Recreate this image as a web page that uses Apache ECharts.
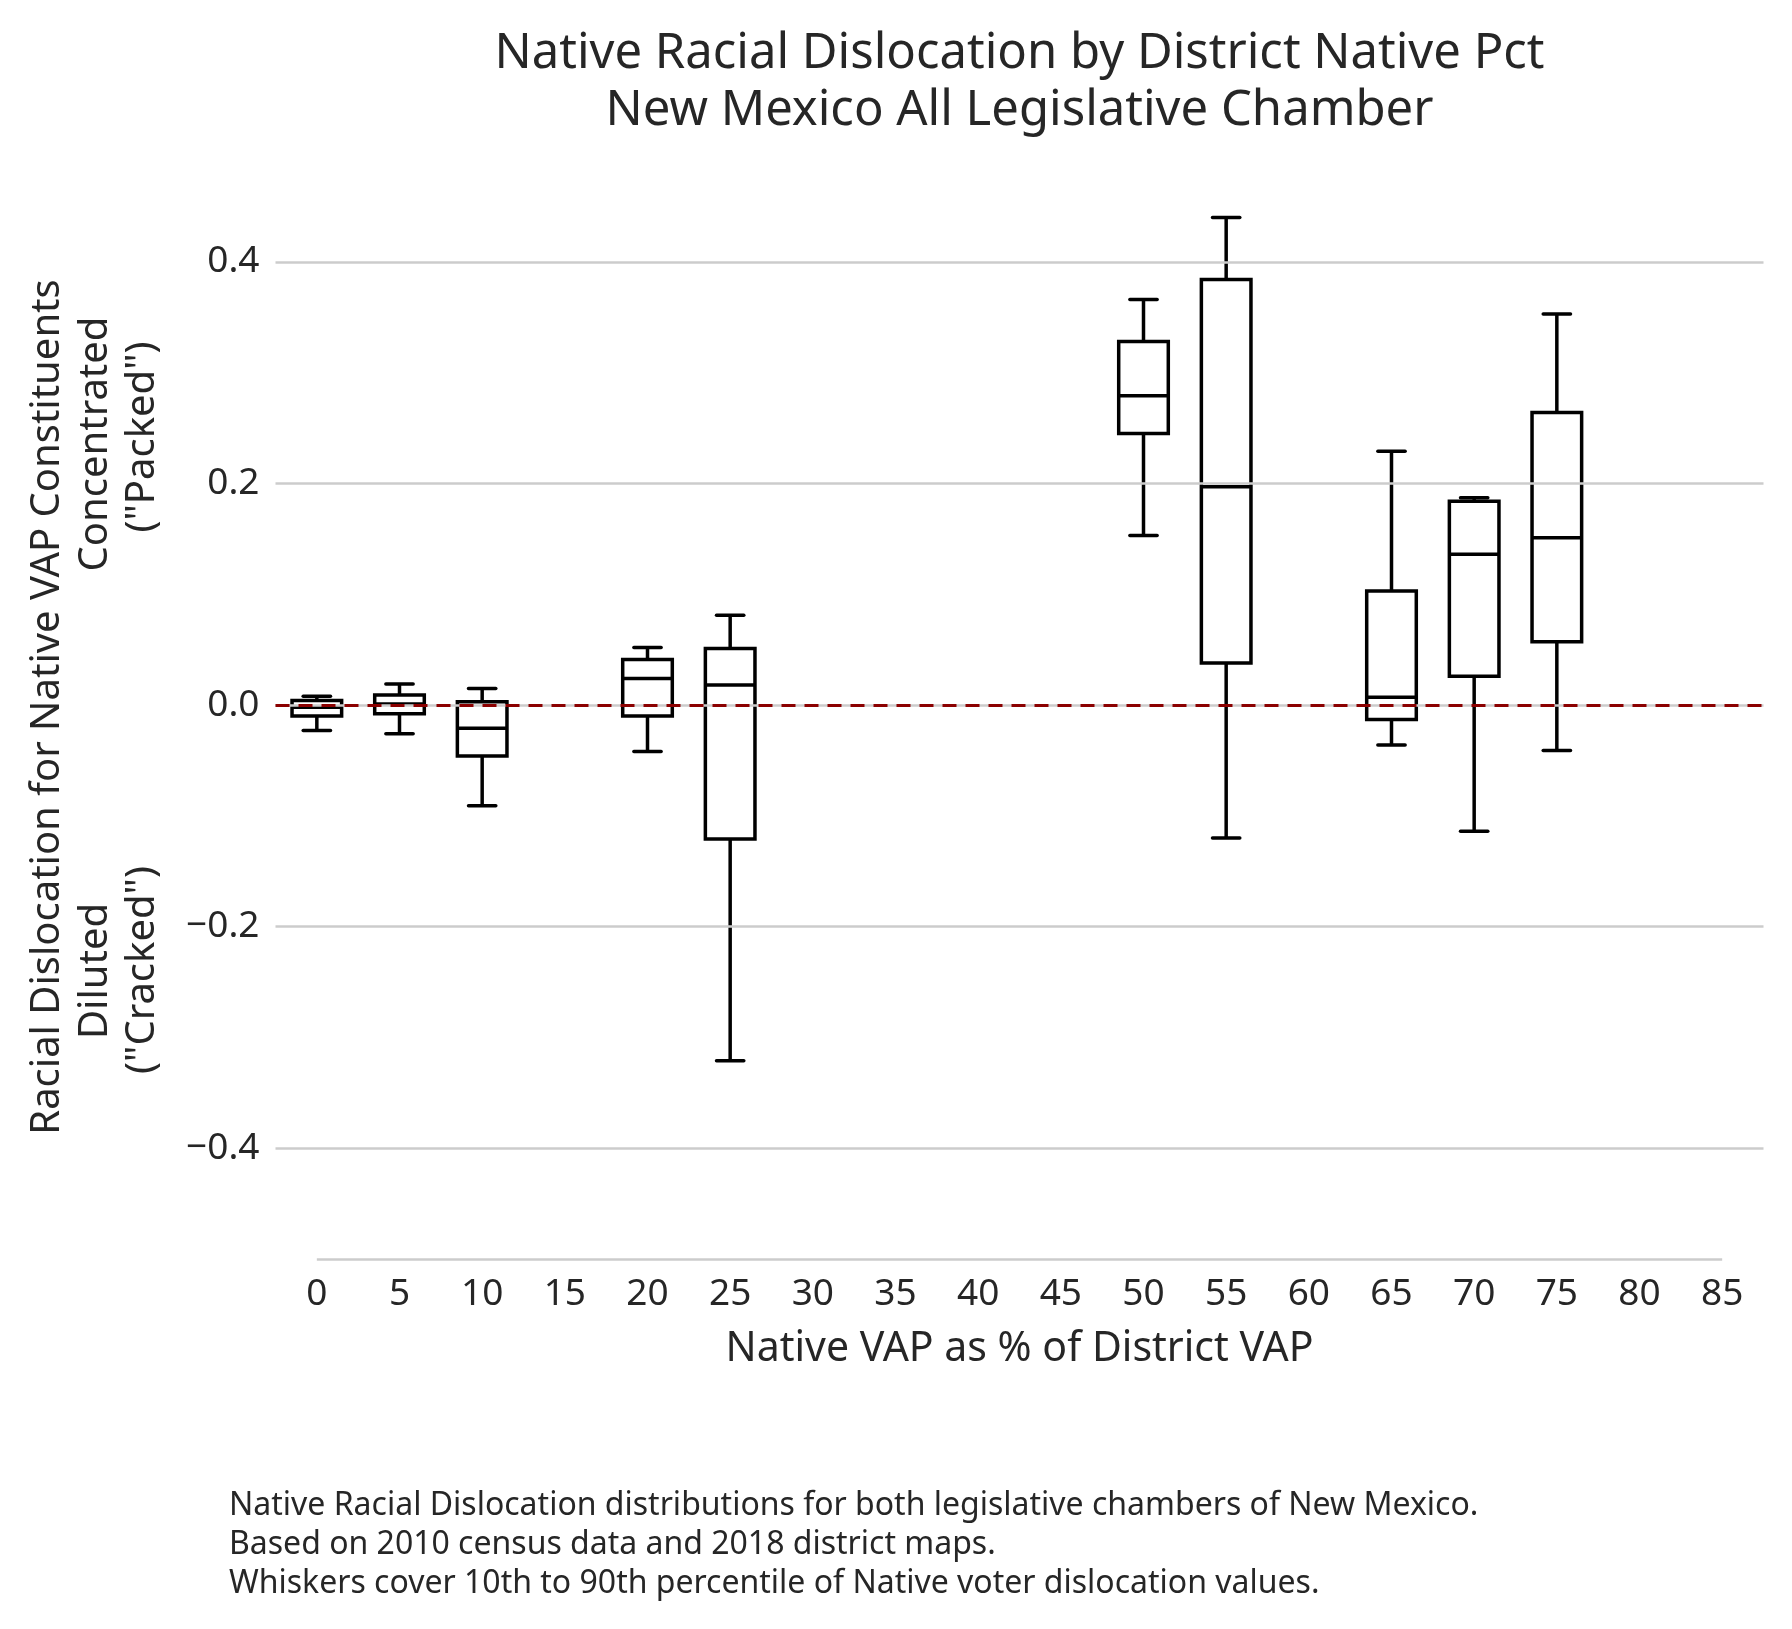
<!DOCTYPE html>
<html>
<head>
<meta charset="utf-8">
<script src="https://cdn.jsdelivr.net/npm/echarts@6/dist/echarts.min.js"></script>
<style>
html,body{margin:0;padding:0;background:#fff;}
#chart{width:1792px;height:1629px;}
</style>
</head>
<body>
<div id="chart"></div>
<script>
// ---- data ----
const categories = ['0','5','10','15','20','25','30','35','40','45','50','55','60','65','70','75','80','85'];
const boxCats     = ['0','5','10','20','25','50','55','65','70','75'];
const whiskerLow  = [-0.023,-0.026,-0.091,-0.042,-0.321, 0.153, -0.120,-0.036,-0.114,-0.041];
const q1          = [-0.010,-0.008,-0.046,-0.010,-0.121, 0.245,  0.038,-0.013, 0.026, 0.057];
const median      = [-0.002, 0.001,-0.021, 0.024, 0.018, 0.279,  0.197, 0.007, 0.136, 0.151];
const q3          = [ 0.004, 0.009, 0.003, 0.041, 0.051, 0.328,  0.384, 0.103, 0.184, 0.264];
const whiskerHigh = [ 0.008, 0.019, 0.015, 0.052, 0.081, 0.366,  0.440, 0.229, 0.187, 0.353];
const yTicks = [-0.4,-0.2,0,0.2,0.4];
const titleLines = ['Native Racial Dislocation by District Native Pct','New Mexico All Legislative Chamber'];
const footnote = ['Native Racial Dislocation distributions for both legislative chambers of New Mexico.',
                  'Based on 2010 census data and 2018 district maps.',
                  'Whiskers cover 10th to 90th percentile of Native voter dislocation values.'];

const boxData = boxCats.map((c,i)=>[c, whiskerLow[i], q1[i], median[i], q3[i], whiskerHigh[i]]);

const FONT = '"Noto Sans", "Open Sans", sans-serif';
const TXT = '#262626';

function fmt(v){
  if (Math.abs(v) < 1e-9) return '0.0';
  return (v < 0 ? '\u2212' : '') + Math.abs(v).toFixed(1);
}

const chart = echarts.init(document.getElementById('chart'), null, {renderer:'canvas'});

function geom(api){
  const xi = api.value(0);
  const x = api.coord([xi, 0])[0];
  const cw = api.size([1,0])[0];
  return {
    x, w: cw*0.6, cap: cw*0.33,
    yl: api.coord([xi, api.value(1)])[1],
    y1: api.coord([xi, api.value(2)])[1],
    ym: api.coord([xi, api.value(3)])[1],
    y3: api.coord([xi, api.value(4)])[1],
    yh: api.coord([xi, api.value(5)])[1]
  };
}
const LS = {stroke:'#000', lineWidth:3.5, fill:null, lineCap:'round'};

const option = {
  backgroundColor:'#fff',
  animation:false,
  grid:{left:275.5, right:28.5, top:151, bottom:370, containLabel:false},
  xAxis:{
    type:'category', data:categories, boundaryGap:true,
    axisLine:{show:false}, axisTick:{show:false}, splitLine:{show:false},
    axisLabel:{color:TXT, fontSize:37, fontFamily:FONT, margin:17, interval:0},
    name:'Native VAP as % of District VAP', nameLocation:'middle', nameGap:70,
    nameTextStyle:{color:TXT, fontSize:41, fontFamily:FONT}
  },
  yAxis:{
    type:'value', min:-0.5, max:0.5,
    axisLine:{show:false}, axisTick:{show:false}, splitLine:{show:false},
    axisLabel:{customValues:yTicks, formatter:fmt, color:TXT, fontSize:37, fontFamily:FONT, margin:16}
  },
  graphic:[
    {type:'text', x:1019.5, y:54, style:{text:titleLines[0], textAlign:'center', textVerticalAlign:'middle', font:'49px ' + FONT, fill:TXT}},
    {type:'text', x:1019.5, y:111, style:{text:titleLines[1], textAlign:'center', textVerticalAlign:'middle', font:'49px ' + FONT, fill:TXT}},
    {type:'text', x:48, y:707, rotation:Math.PI/2, style:{text:'Racial Dislocation for Native VAP Constituents', textAlign:'center', textVerticalAlign:'middle', font:'40px ' + FONT, fill:TXT}},
    {type:'text', x:96, y:444, rotation:Math.PI/2, style:{text:'Concentrated', textAlign:'center', textVerticalAlign:'middle', font:'40px ' + FONT, fill:TXT}},
    {type:'text', x:143, y:437, rotation:Math.PI/2, style:{text:'("Packed")', textAlign:'center', textVerticalAlign:'middle', font:'40px ' + FONT, fill:TXT}},
    {type:'text', x:96, y:971, rotation:Math.PI/2, style:{text:'Diluted', textAlign:'center', textVerticalAlign:'middle', font:'40px ' + FONT, fill:TXT}},
    {type:'text', x:143, y:970, rotation:Math.PI/2, style:{text:'("Cracked")', textAlign:'center', textVerticalAlign:'middle', font:'40px ' + FONT, fill:TXT}},
    {type:'text', x:229, y:1506, style:{text:footnote[0], textAlign:'left', textVerticalAlign:'middle', font:'32px ' + FONT, fill:TXT}},
    {type:'text', x:229, y:1545, style:{text:footnote[1], textAlign:'left', textVerticalAlign:'middle', font:'32px ' + FONT, fill:TXT}},
    {type:'text', x:229, y:1584, style:{text:footnote[2], textAlign:'left', textVerticalAlign:'middle', font:'32px ' + FONT, fill:TXT}}
  ],
  series:[
    {
      name:'grid', type:'line', data:[], z:1, silent:true,
      markLine:{
        silent:true, symbol:['none','none'], label:{show:false},
        lineStyle:{color:'#cccccc', width:2.5, type:'solid'},
        data: yTicks.map(v=>({yAxis:v})).concat([
          [{coord:[categories[0], -0.5]}, {coord:[categories[categories.length-1], -0.5]}]
        ])
      }
    },
    {
      name:'boxFill', type:'custom', z:2, silent:true,
      encode:{x:0, y:[1,2,3,4,5]},
      data:boxData,
      renderItem:function(params, api){
        const g = geom(api);
        return {type:'rect', shape:{x:g.x-g.w/2, y:g.y3, width:g.w, height:g.y1-g.y3}, style:{fill:'#fff', stroke:null}};
      }
    },
    {
      name:'zero', type:'line', data:[], z:3, silent:true,
      markLine:{
        silent:true, symbol:['none','none'], label:{show:false},
        lineStyle:{color:'#8b0000', width:3, type:[14,9]},
        data:[{yAxis:0}]
      }
    },
    {
      name:'boxLines', type:'custom', z:4, silent:true,
      encode:{x:0, y:[1,2,3,4,5]},
      data:boxData,
      renderItem:function(params, api){
        const g = geom(api);
        const hw = g.w/2, hc = g.cap/2;
        return {type:'group', children:[
          {type:'rect', shape:{x:g.x-hw, y:g.y3, width:g.w, height:g.y1-g.y3}, style:Object.assign({}, LS, {lineCap:'butt', lineJoin:'miter'})},
          {type:'line', shape:{x1:g.x-hw, y1:g.ym, x2:g.x+hw, y2:g.ym}, style:Object.assign({}, LS, {lineCap:'butt'})},
          {type:'line', shape:{x1:g.x, y1:g.y3, x2:g.x, y2:g.yh}, style:Object.assign({}, LS, {lineCap:'butt'})},
          {type:'line', shape:{x1:g.x, y1:g.y1, x2:g.x, y2:g.yl}, style:Object.assign({}, LS, {lineCap:'butt'})},
          {type:'line', shape:{x1:g.x-hc, y1:g.yh, x2:g.x+hc, y2:g.yh}, style:LS},
          {type:'line', shape:{x1:g.x-hc, y1:g.yl, x2:g.x+hc, y2:g.yl}, style:LS}
        ]};
      }
    }
  ]
};
chart.setOption(option);
</script>
</body>
</html>
